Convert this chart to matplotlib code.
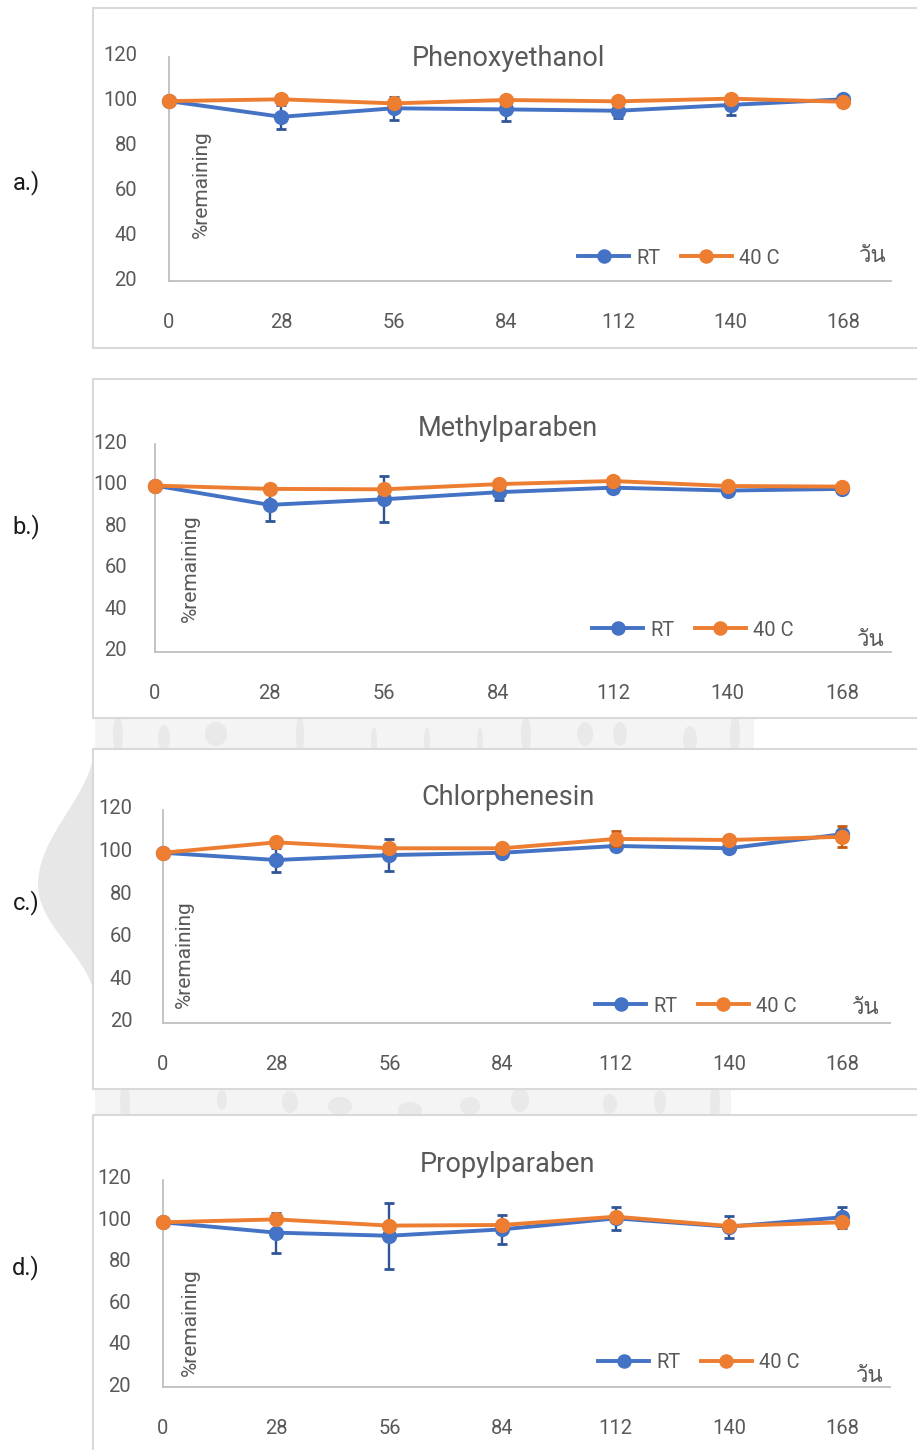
import matplotlib
matplotlib.use("Agg")
import numpy as np
import matplotlib.pyplot as plt
from matplotlib import font_manager, ft2font
from matplotlib.patches import Rectangle, Polygon, Ellipse
from matplotlib.transforms import ScaledTranslation

# ---------------- data ----------------
days = [0, 28, 56, 84, 112, 140, 168]
x_ticks = [0, 28, 56, 84, 112, 140, 168]
y_ticks = [20, 40, 60, 80, 100, 120]
series_labels = ["RT", "40 C"]
titles = ["Phenoxyethanol", "Methylparaben", "Chlorphenesin", "Propylparaben"]
panel_tags = ["a.)", "b.)", "c.)", "d.)"]

phenoxy_rt = [100.2, 93.2, 97.0, 96.5, 95.9, 98.5, 101.0]
phenoxy_rt_sd = [0.5, 5.4, 5.1, 5.1, 3.4, 4.4, 1.0]
phenoxy_40 = [100.2, 101.0, 99.2, 100.7, 100.1, 101.3, 99.9]
phenoxy_40_sd = [0.5, 1.0, 1.0, 1.0, 1.0, 1.0, 1.0]

methyl_rt = [100.1, 90.8, 93.5, 96.9, 99.1, 97.7, 98.5]
methyl_rt_sd = [0.5, 7.6, 11.1, 3.7, 1.5, 1.0, 1.0]
methyl_40 = [100.1, 98.5, 98.3, 100.8, 102.3, 99.9, 99.6]
methyl_40_sd = [0.5, 1.0, 1.0, 1.0, 1.0, 1.0, 1.0]

chlor_rt = [99.9, 96.5, 98.8, 99.9, 103.1, 102.0, 108.6]
chlor_rt_sd = [0.5, 5.7, 7.6, 1.5, 1.0, 1.0, 2.0]
chlor_40 = [99.9, 104.8, 102.0, 102.0, 106.4, 105.9, 107.4]
chlor_40_sd = [0.5, 1.0, 1.0, 1.0, 3.5, 1.0, 5.0]

propyl_rt = [99.6, 94.6, 93.1, 96.2, 101.5, 97.5, 102.0]
propyl_rt_sd = [0.5, 9.6, 15.9, 7.0, 5.4, 5.3, 5.2]
propyl_40 = [99.6, 101.0, 98.0, 98.3, 102.3, 97.8, 99.6]
propyl_40_sd = [0.5, 1.0, 1.0, 1.0, 1.0, 1.0, 2.0]

# ---------------- styling ----------------
W, H = 917, 1450
BLUE, BLUE_DARK = "#4472C4", "#2F5597"
ORANGE, ORANGE_DARK = "#ED7D31", "#C55A11"
TEXT = "#595959"
AXIS = "#BFBFBF"
BASE_FONT = "Roboto"


def find_thai_font():
    for f in font_manager.fontManager.ttflist:
        try:
            cmap = ft2font.FT2Font(f.fname).get_charmap()
        except Exception:
            continue
        if 0x0E27 in cmap and 0x0E19 in cmap:
            return f.name
    return None


THAI_FONT = find_thai_font()
plt.rcParams["font.family"] = [BASE_FONT, "DejaVu Sans"]
plt.rcParams["font.weight"] = "normal"

fig = plt.figure(figsize=(W / 100, H / 100), dpi=100)
fig.patch.set_facecolor("white")


def fx(x):
    return x / W


def fy(y):
    return 1 - y / H


# faint seal in the page background: a rounded bulge on the left and
# speckled bands that show between the panels
seal = "#E7E7E7"
ys = np.linspace(742, 1003, 60)
xs = np.where(ys < 885,
              95 - 57 * 0.5 * (1 + np.cos(np.pi * (ys - 885) / 143)),
              95 - 57 * 0.5 * (1 + np.cos(np.pi * (ys - 885) / 118)))
outline = [(fx(a), fy(b)) for a, b in zip(xs, ys)] + [(fx(100), fy(1003)), (fx(100), fy(742))]
fig.patches.append(Polygon(outline, closed=True, transform=fig.transFigure,
                           facecolor=seal, edgecolor="none", zorder=0.1))
for (x0, x1, y0, y1) in [(95, 754, 716, 752), (95, 731, 1087, 1118)]:
    fig.patches.append(Rectangle((fx(x0), fy(y1)), fx(x1) - fx(x0), fy(y0) - fy(y1),
                                 transform=fig.transFigure, facecolor="#F4F4F4",
                                 edgecolor="none", zorder=0.1))
blobs = [(164, 738, 12, 26), (216, 734, 22, 24), (300, 735, 8, 40), (374, 742, 6, 30),
         (427, 742, 6, 30), (480, 742, 6, 30), (526, 735, 10, 36), (585, 734, 16, 24),
         (620, 734, 14, 24), (690, 740, 14, 28), (118, 735, 10, 40), (735, 735, 10, 40),
         (222, 1100, 10, 20), (290, 1102, 16, 22), (340, 1106, 24, 18), (410, 1110, 24, 16),
         (470, 1106, 20, 18), (520, 1100, 18, 24), (610, 1104, 14, 20), (660, 1102, 12, 24),
         (125, 1102, 10, 40), (715, 1102, 10, 40)]
for (bx, by, bw, bh) in blobs:
    fig.patches.append(Ellipse((fx(bx), fy(by)), bw / W, bh / H,
                               transform=fig.transFigure, facecolor="#E9E9E9",
                               edgecolor="none", zorder=0.15))

# panel layout in pixels
panels = [
    dict(box=(8, 348), x0=169, x168=843, ytop=56.7, ybot=281, ypad=23,
         title_y=58, ylab=(201, 184), leg=(578, 258), unit=(873, 257), tag_y=183,
         rt=phenoxy_rt, rt_sd=phenoxy_rt_sd, hot=phenoxy_40, hot_sd=phenoxy_40_sd),
    dict(box=(379, 718), x0=155, x168=842, ytop=444.3, ybot=651.7, ypad=20,
         title_y=428, ylab=(190, 568), leg=(592, 630), unit=(871, 641), tag_y=527,
         rt=methyl_rt, rt_sd=methyl_rt_sd, hot=methyl_40, hot_sd=methyl_40_sd),
    dict(box=(749, 1089), x0=163, x168=842, ytop=810, ybot=1022.7, ypad=22,
         title_y=798, ylab=(184, 954), leg=(595, 1006), unit=(866, 1008), tag_y=903,
         rt=chlor_rt, rt_sd=chlor_rt_sd, hot=chlor_40, hot_sd=chlor_40_sd),
    dict(box=(1115, 1470), x0=163, x168=842, ytop=1180, ybot=1387.3, ypad=23,
         title_y=1164, ylab=(190, 1322), leg=(598, 1363), unit=(870, 1376), tag_y=1268,
         rt=propyl_rt, rt_sd=propyl_rt_sd, hot=propyl_40, hot_sd=propyl_40_sd),
]

XMAX = 180
unit_family = [THAI_FONT, BASE_FONT] if THAI_FONT else [BASE_FONT]
for i, p in enumerate(panels):
    top, bot = p["box"]
    fig.patches.append(Rectangle((fx(93), fy(bot)), fx(940) - fx(93), fy(top) - fy(bot),
                                 transform=fig.transFigure, facecolor="white",
                                 edgecolor="#D9D9D9", linewidth=1.5, zorder=0.5))

    per_day = (p["x168"] - p["x0"]) / 168
    xend = p["x0"] + XMAX * per_day
    ax = fig.add_axes([fx(p["x0"]), fy(p["ybot"]), (xend - p["x0"]) / W,
                       (p["ybot"] - p["ytop"]) / H])
    ax.set_zorder(1)
    ax.patch.set_alpha(0)
    ax.set_xlim(0, XMAX)
    ax.set_ylim(20, 120)
    for s in ("top", "right"):
        ax.spines[s].set_visible(False)
    for s in ("left", "bottom"):
        ax.spines[s].set_color(AXIS)
        ax.spines[s].set_linewidth(1.3)
    ax.set_xticks(x_ticks)
    ax.set_yticks(y_ticks)
    ax.tick_params(axis="x", length=0, pad=23, labelsize=14.5, labelcolor=TEXT)
    ax.tick_params(axis="y", length=0, pad=p["ypad"], labelsize=14.5, labelcolor=TEXT)
    for lab in ax.get_yticklabels():
        lab.set_transform(lab.get_transform() + ScaledTranslation(0, 3 / 100, fig.dpi_scale_trans))

    l_rt, = ax.plot(days, p["rt"], color=BLUE, lw=2.8, marker="o", ms=11,
                    markeredgewidth=0, zorder=3, clip_on=False)
    l_hot, = ax.plot(days, p["hot"], color=ORANGE, lw=2.8, marker="o", ms=11,
                     markeredgewidth=0, zorder=4, clip_on=False)
    ax.errorbar(days, p["rt"], yerr=p["rt_sd"], fmt="none", ecolor=BLUE_DARK,
                elinewidth=1.7, capsize=3.8, capthick=2.0, zorder=2.5, clip_on=False)
    ax.errorbar(days, p["hot"], yerr=p["hot_sd"], fmt="none", ecolor=ORANGE_DARK,
                elinewidth=1.7, capsize=3.8, capthick=2.0, zorder=3.5, clip_on=False)

    leg = ax.legend([l_rt, l_hot], series_labels, ncol=2, frameon=False,
                    loc="center left", bbox_to_anchor=(fx(p["leg"][0]), fy(p["leg"][1])),
                    bbox_transform=fig.transFigure, handlelength=2.55, handletextpad=0.35,
                    columnspacing=1.0, borderpad=0, borderaxespad=0, fontsize=14.5,
                    numpoints=1, markerscale=0.95)
    for t in leg.get_texts():
        t.set_color(TEXT)

    fig.text(fx(508), fy(p["title_y"]), titles[i], ha="center", va="center",
             fontsize=19.5, color=TEXT)
    fig.text(fx(p["ylab"][0]), fy(p["ylab"][1]), "%remaining", rotation=90,
             ha="center", va="center", fontsize=15, color=TEXT)
    fig.text(fx(p["unit"][0]), fy(p["unit"][1]), "วัน", ha="center", va="center",
             fontsize=16, color=TEXT, family=unit_family, fontweight="normal")
    fig.text(fx(26), fy(p["tag_y"]), panel_tags[i], ha="center", va="center",
             fontsize=17, color="#1A1A1A")

fig.savefig("out.png", dpi=100, facecolor="white")
